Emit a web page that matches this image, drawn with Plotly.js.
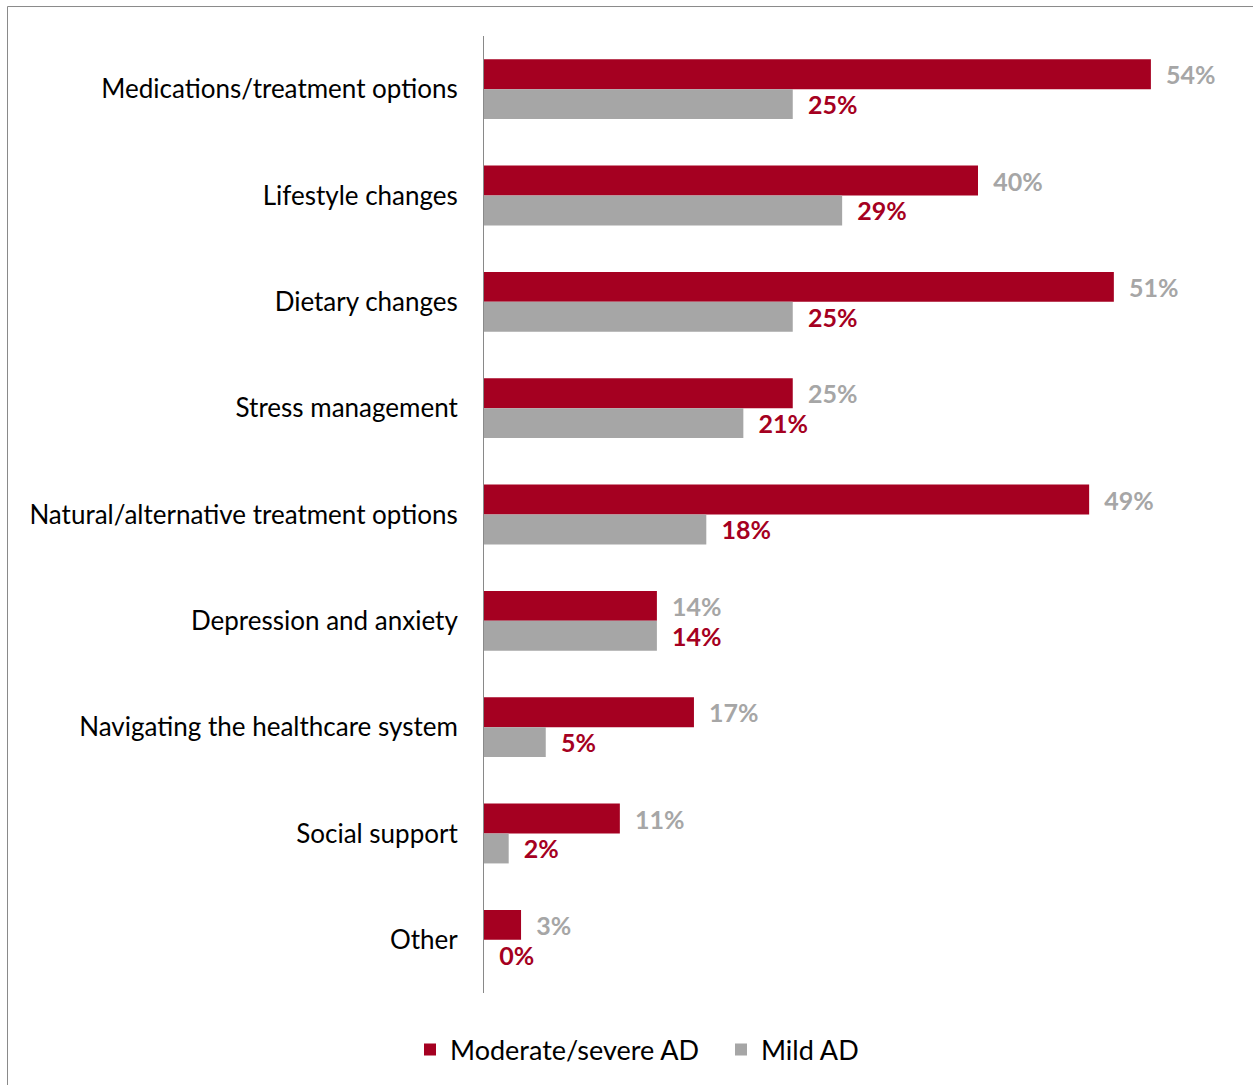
<!DOCTYPE html>
<html>
<head>
<meta charset="utf-8">
<script src="https://cdn.plot.ly/plotly-3.0.1.min.js"></script>
<style>
html,body{margin:0;padding:0;background:#fff;}
#chart{width:1253px;height:1085px;}
</style>
</head>
<body>
<div id="chart"></div>
<script>
const categories = [
  "Medications/treatment options",
  "Lifestyle changes",
  "Dietary changes",
  "Stress management",
  "Natural/alternative treatment options",
  "Depression and anxiety",
  "Navigating the healthcare system",
  "Social support",
  "Other"
];
const moderateSevere = [54, 40, 51, 25, 49, 14, 17, 11, 3];
const mild = [25, 29, 25, 21, 18, 14, 5, 2, 0];
const seriesNames = ["Moderate/severe AD", "Mild AD"];

const RED = "#A50021";
const GREY = "#A6A6A6";
const FONT = "Lato, 'Open Sans', sans-serif";
const PAD = "\u00a0\u00a0";

const traces = [
  {
    type: "bar", orientation: "h", name: seriesNames[0],
    y: categories, x: moderateSevere,
    marker: {color: RED, line: {width: 0}},
    text: moderateSevere.map(v => PAD + v + "%"),
    textposition: "outside", cliponaxis: false, constraintext: "none",
    textfont: {family: FONT, size: 25, color: GREY, weight: "bold"},
    hoverinfo: "skip"
  },
  {
    type: "bar", orientation: "h", name: seriesNames[1],
    y: categories, x: mild,
    marker: {color: GREY, line: {width: 0}},
    text: mild.map(v => PAD + v + "%"),
    textposition: "outside", cliponaxis: false, constraintext: "none",
    textfont: {family: FONT, size: 25, color: RED, weight: "bold"},
    hoverinfo: "skip"
  }
];

const L = 484, T = 36, R = 1225, B = 994;
const pw = R - L, ph = B - T;
const px = v => (v - L) / pw;
const py = v => (B - v) / ph;

const layout = {
  width: 1253, height: 1085,
  margin: {l: L, r: 1253 - R, t: T, b: 1085 - B, pad: 0},
  paper_bgcolor: "#fff", plot_bgcolor: "#fff",
  font: {family: FONT, size: 26, color: "#000"},
  barmode: "group", bargap: 0.437, bargroupgap: 0,
  showlegend: true,
  legend: {
    orientation: "h", x: px(410), xanchor: "left", y: py(1050), yanchor: "middle",
    font: {family: FONT, size: 27, color: "#000"}, traceorder: "normal",
    itemwidth: 30, entrywidth: 266
  },
  xaxis: {range: [0, 60], visible: false, fixedrange: true},
  yaxis: {
    autorange: "reversed", showline: true, linecolor: "#898989", linewidth: 1,
    ticks: "outside", ticklen: 20, tickcolor: "rgba(0,0,0,0)", showgrid: false,
    zeroline: false, tickfont: {family: FONT, size: 26, color: "#000"}
  },
  shapes: [{
    type: "rect", xref: "paper", yref: "paper",
    x0: px(7.5), x1: px(1270), y0: py(1100), y1: py(6.5),
    line: {color: "#8a8a8a", width: 1}, fillcolor: "rgba(0,0,0,0)", layer: "below"
  }]
};

Plotly.newPlot("chart", traces, layout, {displayModeBar: false, staticPlot: true});
</script>
</body>
</html>
